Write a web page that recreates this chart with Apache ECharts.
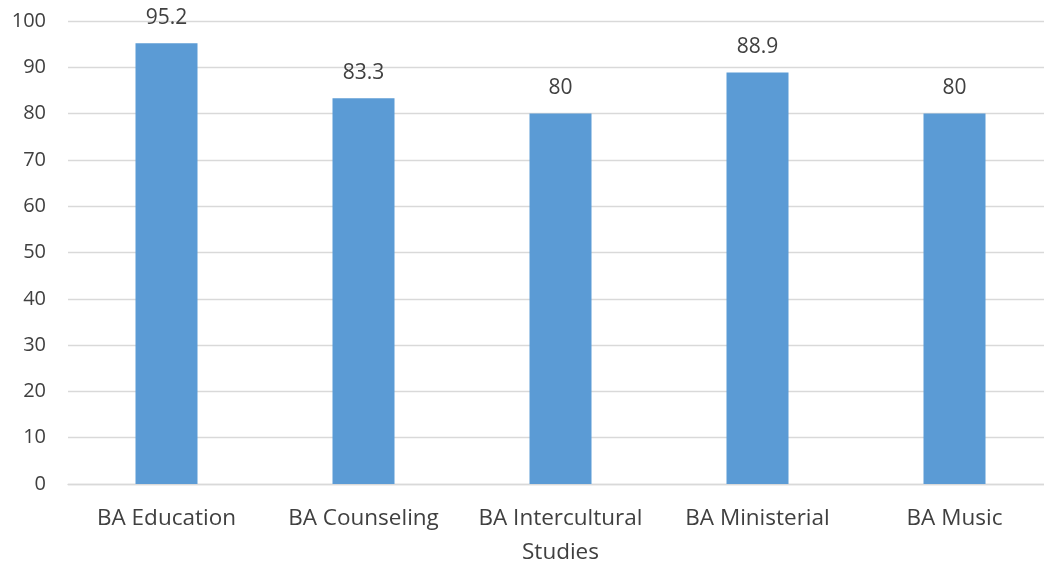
<!DOCTYPE html>
<html><head><meta charset="utf-8">
<script src="https://cdn.jsdelivr.net/npm/echarts@6/dist/echarts.min.js"></script>
<style>html,body{margin:0;padding:0;background:#fff}#c{width:1044px;height:563px}</style>
</head><body><div id="c"></div>
<script>
const categories = ["BA Education", "BA Counseling", "BA Intercultural\nStudies", "BA Ministerial", "BA Music"];
const values = [95.2, 83.3, 80, 88.9, 80];
const yTicks = {min: 0, max: 100, interval: 10};

const chart = echarts.init(document.getElementById('c'), null, {renderer: 'canvas'});
const font = '"Open Sans", Lato, sans-serif';
chart.setOption({
  animation: false,
  grid: {left: 68, right: -9, top: 21, bottom: 79, containLabel: false, outerBoundsMode: 'none'},
  xAxis: {
    type: 'category', data: categories,
    axisLine: {lineStyle: {color: '#d9d9d9', width: 1.3}},
    axisTick: {show: false},
    axisLabel: {color: '#404040', fontSize: 22.5, fontFamily: font, margin: 17.5, lineHeight: 34, interval: 0}
  },
  yAxis: {
    type: 'value', min: yTicks.min, max: yTicks.max, interval: yTicks.interval,
    axisLine: {show: false}, axisTick: {show: false},
    splitLine: {lineStyle: {color: '#d9d9d9', width: 1.3}},
    axisLabel: {color: '#404040', fontSize: 20, fontFamily: font, margin: 22}
  },
  series: [{
    type: 'bar', data: values, barWidth: 62,
    itemStyle: {color: '#5b9bd5'},
    label: {show: true, position: 'top', distance: 15, color: '#404040', fontSize: 21, fontFamily: font}
  }]
});
</script></body></html>
